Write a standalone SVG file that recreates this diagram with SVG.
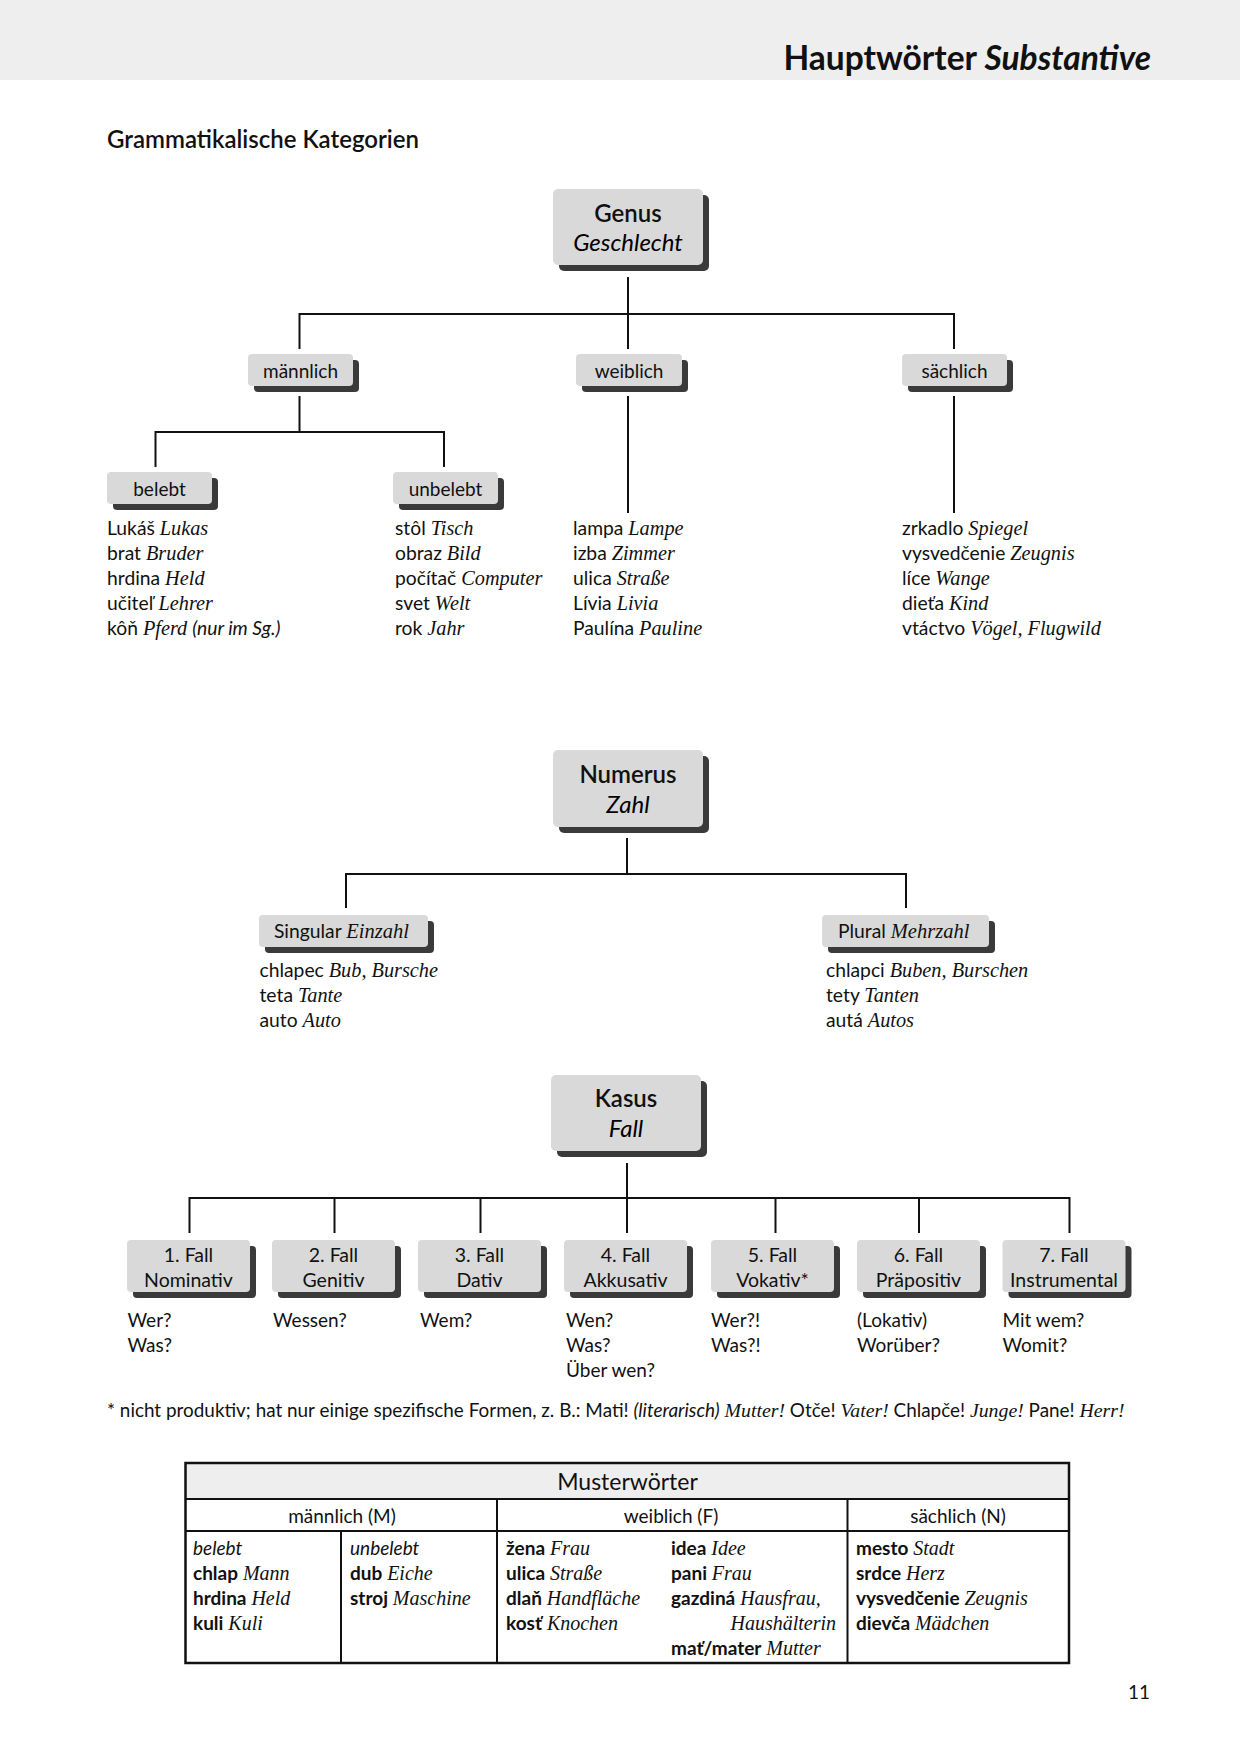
<svg xmlns="http://www.w3.org/2000/svg" width="1240" height="1754" viewBox="0 0 1240 1754">
<style>
.s{font-family:Lato,"Liberation Sans",sans-serif;fill:#111}
.si{font-family:Lato,"Liberation Sans",sans-serif;font-style:italic}
.i{font-family:"Liberation Serif",serif;font-style:italic}
.b{font-weight:bold}
.sb{font-weight:600}
.box{fill:#d9d9d9}
.sh{fill:#3a3a3a}
.ln{fill:none;stroke:#111;stroke-width:2}
.lst{font-size:19.3px}
.lst .i{font-size:20.3px}
.lbl{font-size:19px;text-anchor:middle}
.big{font-size:24px;text-anchor:middle}
.cs{font-size:19.5px;text-anchor:middle}
.q{font-size:19px}
.tb{font-size:19px}
.tb .i{font-size:20px}
</style>
<rect x="0" y="0" width="1240" height="80" fill="#eeeeee"/>
<text class="s b" x="1151" y="70" font-size="33.5" text-anchor="end">Hauptwörter <tspan class="si">Substantive</tspan></text>
<text class="s sb" x="107" y="148" font-size="24">Grammatikalische Kategorien</text>

<g id="connectors">
<path class="ln" d="M628 277V349M299.5 349V314H954V349"/>
<path class="ln" d="M299.5 396V432M155.5 467V432H444V467"/>
<path class="ln" d="M628 396V513M954 396V513"/>
<path class="ln" d="M627 838V874M346 908V874H906V908"/>
<path class="ln" d="M627 1163V1233M189.5 1233V1198H1069.5V1233M334.5 1198V1233M480.5 1198V1233M775.5 1198V1233M919 1198V1233"/>
</g>

<g id="genus">
<rect class="sh" x="559" y="195" width="150" height="76" rx="5"/>
<rect class="box" x="553" y="189" width="150" height="76" rx="5"/>
<text class="s sb big" x="628" y="222">Genus</text>
<text class="si big" x="628" y="251">Geschlecht</text>
</g>
<g id="maennlich">
<rect class="sh" x="254" y="360" width="105" height="32" rx="4"/>
<rect class="box" x="248" y="354" width="105" height="32" rx="4"/>
<text class="s lbl" x="300.5" y="378">männlich</text>
</g>
<g id="weiblich">
<rect class="sh" x="582" y="360" width="106" height="32" rx="4"/>
<rect class="box" x="576" y="354" width="106" height="32" rx="4"/>
<text class="s lbl" x="629" y="378">weiblich</text>
</g>
<g id="saechlich">
<rect class="sh" x="908" y="360" width="105" height="32" rx="4"/>
<rect class="box" x="902" y="354" width="105" height="32" rx="4"/>
<text class="s lbl" x="954.5" y="378">sächlich</text>
</g>
<g id="belebt">
<rect class="sh" x="113" y="478" width="105" height="32" rx="4"/>
<rect class="box" x="107" y="472" width="105" height="32" rx="4"/>
<text class="s lbl" x="159.5" y="496">belebt</text>
</g>
<g id="unbelebt">
<rect class="sh" x="399" y="478" width="105" height="32" rx="4"/>
<rect class="box" x="393" y="472" width="105" height="32" rx="4"/>
<text class="s lbl" x="445.5" y="496">unbelebt</text>
</g>

<g id="list-belebt" class="s lst">
<text x="107" y="535">Lukáš <tspan class="i">Lukas</tspan></text>
<text x="107" y="560">brat <tspan class="i">Bruder</tspan></text>
<text x="107" y="585">hrdina <tspan class="i">Held</tspan></text>
<text x="107" y="610">učiteľ <tspan class="i">Lehrer</tspan></text>
<text x="107" y="635">kôň <tspan class="i">Pferd</tspan> <tspan class="si">(nur im Sg.)</tspan></text>
</g>
<g id="list-unbelebt" class="s lst">
<text x="395" y="535">stôl <tspan class="i">Tisch</tspan></text>
<text x="395" y="560">obraz <tspan class="i">Bild</tspan></text>
<text x="395" y="585">počítač <tspan class="i">Computer</tspan></text>
<text x="395" y="610">svet <tspan class="i">Welt</tspan></text>
<text x="395" y="635">rok <tspan class="i">Jahr</tspan></text>
</g>
<g id="list-weiblich" class="s lst">
<text x="573" y="535">lampa <tspan class="i">Lampe</tspan></text>
<text x="573" y="560">izba <tspan class="i">Zimmer</tspan></text>
<text x="573" y="585">ulica <tspan class="i">Straße</tspan></text>
<text x="573" y="610">Lívia <tspan class="i">Livia</tspan></text>
<text x="573" y="635">Paulína <tspan class="i">Pauline</tspan></text>
</g>
<g id="list-saechlich" class="s lst">
<text x="902" y="535">zrkadlo <tspan class="i">Spiegel</tspan></text>
<text x="902" y="560">vysvedčenie <tspan class="i">Zeugnis</tspan></text>
<text x="902" y="585">líce <tspan class="i">Wange</tspan></text>
<text x="902" y="610">dieťa <tspan class="i">Kind</tspan></text>
<text x="902" y="635">vtáctvo <tspan class="i">Vögel, Flugwild</tspan></text>
</g>

<g id="numerus">
<rect class="sh" x="559" y="756" width="150" height="77" rx="5"/>
<rect class="box" x="553" y="750" width="150" height="77" rx="5"/>
<text class="s sb big" x="628" y="783">Numerus</text>
<text class="si big" x="628" y="813">Zahl</text>
</g>
<g id="singular">
<rect class="sh" x="265" y="921" width="169" height="32" rx="4"/>
<rect class="box" x="259" y="915" width="169" height="32" rx="4"/>
<text class="s" font-size="19.3" x="274" y="938">Singular <tspan class="i" font-size="20.5">Einzahl</tspan></text>
</g>
<g id="plural">
<rect class="sh" x="828" y="921" width="167" height="32" rx="4"/>
<rect class="box" x="822" y="915" width="167" height="32" rx="4"/>
<text class="s" font-size="19.3" x="838" y="938">Plural <tspan class="i" font-size="20.5">Mehrzahl</tspan></text>
</g>
<g id="list-singular" class="s lst">
<text x="259.5" y="977">chlapec <tspan class="i">Bub, Bursche</tspan></text>
<text x="259.5" y="1002">teta <tspan class="i">Tante</tspan></text>
<text x="259.5" y="1027">auto <tspan class="i">Auto</tspan></text>
</g>
<g id="list-plural" class="s lst">
<text x="826" y="977">chlapci <tspan class="i">Buben, Burschen</tspan></text>
<text x="826" y="1002">tety <tspan class="i">Tanten</tspan></text>
<text x="826" y="1027">autá <tspan class="i">Autos</tspan></text>
</g>

<g id="kasus">
<rect class="sh" x="557" y="1081" width="150" height="76" rx="5"/>
<rect class="box" x="551" y="1075" width="150" height="76" rx="5"/>
<text class="s sb big" x="626" y="1107">Kasus</text>
<text class="si big" x="626" y="1137">Fall</text>
</g>
<g id="fall1">
<rect class="sh" x="133" y="1246" width="123" height="52" rx="4"/>
<rect class="box" x="127" y="1240" width="123" height="52" rx="4"/>
<text class="s cs" x="188.5" y="1262">1. Fall</text>
<text class="s cs" x="188.5" y="1287">Nominativ</text>
</g>
<g id="fall2">
<rect class="sh" x="278" y="1246" width="123" height="52" rx="4"/>
<rect class="box" x="272" y="1240" width="123" height="52" rx="4"/>
<text class="s cs" x="333.5" y="1262">2. Fall</text>
<text class="s cs" x="333.5" y="1287">Genitiv</text>
</g>
<g id="fall3">
<rect class="sh" x="424" y="1246" width="123" height="52" rx="4"/>
<rect class="box" x="418" y="1240" width="123" height="52" rx="4"/>
<text class="s cs" x="479.5" y="1262">3. Fall</text>
<text class="s cs" x="479.5" y="1287">Dativ</text>
</g>
<g id="fall4">
<rect class="sh" x="570" y="1246" width="123" height="52" rx="4"/>
<rect class="box" x="564" y="1240" width="123" height="52" rx="4"/>
<text class="s cs" x="625.5" y="1262">4. Fall</text>
<text class="s cs" x="625.5" y="1287">Akkusativ</text>
</g>
<g id="fall5">
<rect class="sh" x="717" y="1246" width="123" height="52" rx="4"/>
<rect class="box" x="711" y="1240" width="123" height="52" rx="4"/>
<text class="s cs" x="772.5" y="1262">5. Fall</text>
<text class="s cs" x="772.5" y="1287">Vokativ*</text>
</g>
<g id="fall6">
<rect class="sh" x="863" y="1246" width="123" height="52" rx="4"/>
<rect class="box" x="857" y="1240" width="123" height="52" rx="4"/>
<text class="s cs" x="918.5" y="1262">6. Fall</text>
<text class="s cs" x="918.5" y="1287">Präpositiv</text>
</g>
<g id="fall7">
<rect class="sh" x="1008.5" y="1246" width="123" height="52" rx="4"/>
<rect class="box" x="1002.5" y="1240" width="123" height="52" rx="4"/>
<text class="s cs" x="1064" y="1262">7. Fall</text>
<text class="s cs" x="1064" y="1287">Instrumental</text>
</g>

<g id="questions" class="s q">
<text x="127.5" y="1327">Wer?</text>
<text x="127.5" y="1352">Was?</text>
<text x="273" y="1327">Wessen?</text>
<text x="420" y="1327">Wem?</text>
<text x="566" y="1327">Wen?</text>
<text x="566" y="1352">Was?</text>
<text x="566" y="1377">Über wen?</text>
<text x="711" y="1327">Wer?!</text>
<text x="711" y="1352">Was?!</text>
<text x="857" y="1327">(Lokativ)</text>
<text x="857" y="1352">Worüber?</text>
<text x="1002.5" y="1327">Mit wem?</text>
<text x="1002.5" y="1352">Womit?</text>
</g>

<text class="s" x="107" y="1417" font-size="18.9">* nicht produktiv; hat nur einige spezifische Formen, z. B.: Mati! <tspan class="si">(literarisch)</tspan> <tspan class="i" font-size="19.8">Mutter!</tspan> Otče! <tspan class="i" font-size="19.8">Vater!</tspan> Chlapče! <tspan class="i" font-size="19.8">Junge!</tspan> Pane! <tspan class="i" font-size="19.8">Herr!</tspan></text>

<g id="table">
<rect x="185.5" y="1463" width="883.5" height="36" fill="#eeeeee"/>
<rect x="185.5" y="1463" width="883.5" height="200" fill="none" stroke="#111" stroke-width="2.5"/>
<path d="M185.5 1499H1069M185.5 1531H1069M497 1499V1663M847.5 1499V1663M341 1531V1663" fill="none" stroke="#111" stroke-width="2"/>
<text class="s" x="627.5" y="1490" font-size="23" text-anchor="middle">Musterwörter</text>
<text class="s" x="342" y="1523" font-size="19" text-anchor="middle">männlich (M)</text>
<text class="s" x="671" y="1523" font-size="19" text-anchor="middle">weiblich (F)</text>
<text class="s" x="958" y="1523" font-size="19" text-anchor="middle">sächlich (N)</text>
<g class="s tb">
<text class="si" x="193" y="1555">belebt</text>
<text x="193" y="1580"><tspan class="b">chlap</tspan> <tspan class="i">Mann</tspan></text>
<text x="193" y="1605"><tspan class="b">hrdina</tspan> <tspan class="i">Held</tspan></text>
<text x="193" y="1630"><tspan class="b">kuli</tspan> <tspan class="i">Kuli</tspan></text>
<text class="si" x="350" y="1555">unbelebt</text>
<text x="350" y="1580"><tspan class="b">dub</tspan> <tspan class="i">Eiche</tspan></text>
<text x="350" y="1605"><tspan class="b">stroj</tspan> <tspan class="i">Maschine</tspan></text>
<text x="506" y="1555"><tspan class="b">žena</tspan> <tspan class="i">Frau</tspan></text>
<text x="506" y="1580"><tspan class="b">ulica</tspan> <tspan class="i">Straße</tspan></text>
<text x="506" y="1605"><tspan class="b">dlaň</tspan> <tspan class="i">Handfläche</tspan></text>
<text x="506" y="1630"><tspan class="b">kosť</tspan> <tspan class="i">Knochen</tspan></text>
<text x="671" y="1555"><tspan class="b">idea</tspan> <tspan class="i">Idee</tspan></text>
<text x="671" y="1580"><tspan class="b">pani</tspan> <tspan class="i">Frau</tspan></text>
<text x="671" y="1605"><tspan class="b">gazdiná</tspan> <tspan class="i">Hausfrau,</tspan></text>
<text class="i" x="836" y="1630" text-anchor="end">Haushälterin</text>
<text x="671" y="1655"><tspan class="b">mať/mater</tspan> <tspan class="i">Mutter</tspan></text>
<text x="856" y="1555"><tspan class="b">mesto</tspan> <tspan class="i">Stadt</tspan></text>
<text x="856" y="1580"><tspan class="b">srdce</tspan> <tspan class="i">Herz</tspan></text>
<text x="856" y="1605"><tspan class="b">vysvedčenie</tspan> <tspan class="i">Zeugnis</tspan></text>
<text x="856" y="1630"><tspan class="b">dievča</tspan> <tspan class="i">Mädchen</tspan></text>
</g>
</g>
<text class="s" x="1150" y="1699" font-size="19" text-anchor="end">11</text>
</svg>
